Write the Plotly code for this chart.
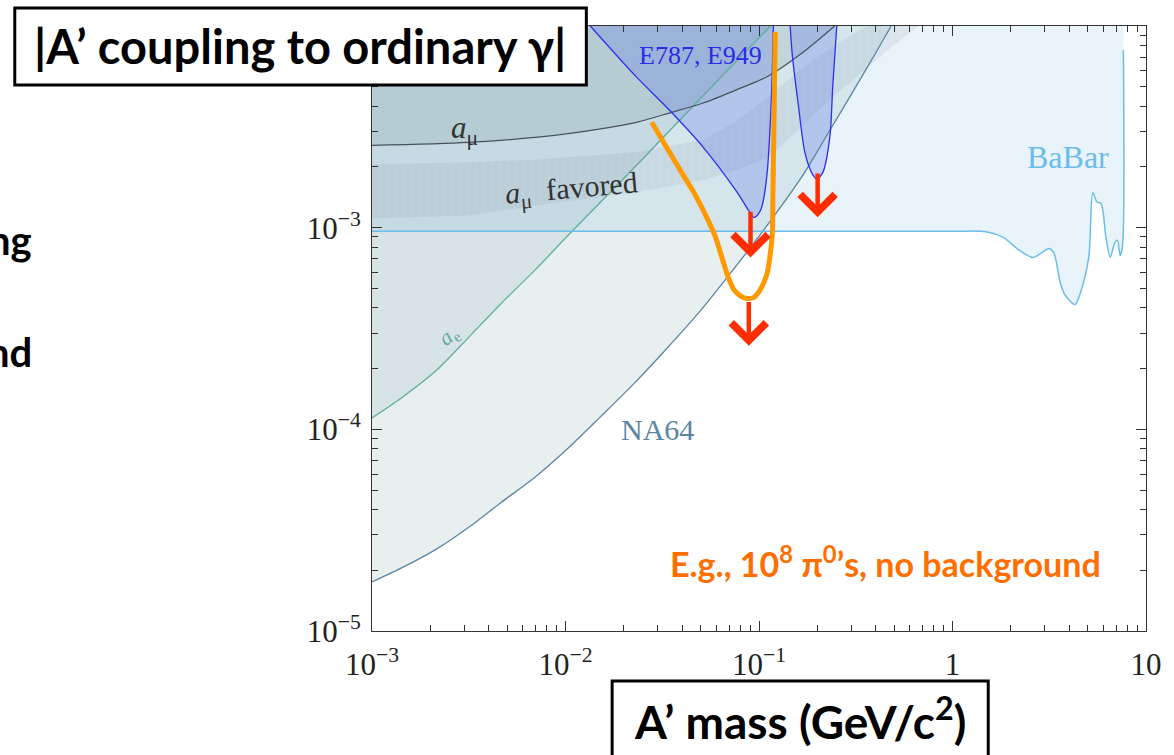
import math
import plotly.graph_objects as go

# ---------------- data: A' mass (GeV/c^2) vs |coupling| ----------------
na64_mass = [0.001, 0.00143, 0.00214, 0.00315, 0.00465, 0.00693, 0.0102, 0.0151, 0.0225,
             0.0333, 0.0491, 0.0731, 0.108, 0.166, 0.227, 0.301, 0.394, 0.482]
na64_eps = [1.75e-5, 2.06e-5, 2.54e-5, 3.26e-5, 4.34e-5, 5.77e-5, 7.98e-5, 1.15e-4, 1.68e-4,
            2.51e-4, 3.81e-4, 6.14e-4, 1.0e-3, 1.78e-3, 2.93e-3, 4.61e-3, 7.14e-3, 1.0e-2]

ae_mass = [0.001, 0.00143, 0.00214, 0.00315, 0.00465, 0.00693, 0.0102, 0.0233, 0.0473, 0.1146]
ae_eps = [1.14e-4, 1.44e-4, 1.95e-4, 2.85e-4, 4.21e-4, 6.14e-4, 9.06e-4, 2.04e-3, 4.15e-3, 1.0e-2]

amu_mass = [0.001, 0.00315, 0.00719, 0.0158, 0.0233, 0.0344, 0.0514, 0.0759, 0.1119, 0.1669, 0.246]
amu_eps = [2.56e-3, 2.65e-3, 2.81e-3, 3.11e-3, 3.33e-3, 3.70e-3, 4.15e-3, 4.81e-3, 5.65e-3, 7.34e-3, 1.0e-2]

fav_hi_mass = [0.001, 0.00315, 0.00719, 0.0233, 0.0514, 0.0759, 0.1119, 0.1669, 0.246, 0.363]
fav_hi_eps = [2.06e-3, 2.11e-3, 2.18e-3, 2.37e-3, 2.72e-3, 3.37e-3, 4.44e-3, 6.18e-3, 8.04e-3, 1.0e-2]
fav_lo_mass = [0.001, 0.00315, 0.00719, 0.0233, 0.0514, 0.0759, 0.1119, 0.246, 0.499, 0.670]
fav_lo_eps = [1.11e-3, 1.15e-3, 1.29e-3, 1.50e-3, 1.72e-3, 1.93e-3, 2.23e-3, 4.54e-3, 8.04e-3, 1.0e-2]

babar_mass = [0.001, 1.0, 1.49, 1.82, 2.22, 2.60, 2.85, 3.16, 3.35, 3.61, 3.83, 4.30, 4.57,
              5.06, 5.31, 5.58, 5.85, 6.21, 6.53, 6.92, 7.12, 7.35, 7.55, 7.64]
babar_eps = [9.6e-4, 9.6e-4, 9.55e-4, 8.98e-4, 7.71e-4, 7.12e-4, 7.45e-4, 7.89e-4, 7.45e-4,
             5.29e-4, 4.61e-4, 4.16e-4, 4.72e-4, 7.14e-4, 1.49e-3, 1.34e-3, 1.32e-3, 8.98e-4,
             7.14e-4, 8.48e-4, 8.65e-4, 7.28e-4, 8.01e-4, 7.6e-3]

e787a_mass = [0.01343, 0.0233, 0.0344, 0.0514, 0.0759, 0.0883, 0.0937, 0.0970, 0.1019,
              0.1054, 0.1105, 0.1146, 0.1172, 0.1186]
e787a_eps = [1.0e-2, 5.58e-3, 3.83e-3, 2.51e-3, 1.53e-3, 1.22e-3, 1.125e-3, 1.14e-3, 1.22e-3,
             1.37e-3, 1.93e-3, 3.41e-3, 6.04e-3, 1.0e-2]

e787b_mass = [0.1449, 0.1483, 0.1592, 0.1730, 0.1879, 0.1991, 0.2138, 0.2323, 0.2404, 0.2523]
e787b_eps = [1.0e-2, 7.34e-3, 4.15e-3, 2.34e-3, 1.86e-3, 1.74e-3, 1.88e-3, 2.81e-3, 4.98e-3, 1.0e-2]

proj_mass = [0.0279, 0.0344, 0.0421, 0.0457, 0.0552, 0.0599, 0.0650, 0.0697, 0.0740, 0.0785,
             0.0833, 0.0883, 0.0937, 0.0993, 0.1054, 0.1105, 0.1146, 0.1172, 0.1179, 0.1186,
             0.1199, 0.1213]
proj_eps = [3.33e-3, 2.37e-3, 1.72e-3, 1.515e-3, 1.062e-3, 8.85e-4, 6.88e-4, 5.60e-4, 4.94e-4,
            4.66e-4, 4.50e-4, 4.46e-4, 4.50e-4, 4.77e-4, 5.29e-4, 6.0e-4, 7.54e-4, 9.37e-4,
            1.37e-3, 2.0e-3, 4.29e-3, 9.34e-3]

arrow_mass = [0.0904, 0.2009, 0.0886]
arrow_from = [1.22e-3, 1.89e-3, 4.35e-4]
arrow_to = [7.12e-4, 1.125e-3, 2.60e-4]

x_tick_vals = [1e-3, 1e-2, 1e-1, 1, 10]
x_tick_text = ["10<sup>−3</sup>", "10<sup>−2</sup>", "10<sup>−1</sup>", "1", "10"]
y_tick_vals = [1e-5, 1e-4, 1e-3]
y_tick_text = ["10<sup>−5</sup>", "10<sup>−4</sup>", "10<sup>−3</sup>"]

X_MIN, Y_TOP = 1e-3, 1e-2

# ---------------- figure ----------------
W, H = 1174, 755
ML, MR, MT, MB = 372, 22, 26, 124
PW, PH = W - ML - MR, H - MT - MB


def px_x(px):
    return (px - ML) / PW


def px_y(py):
    return (H - MB - py) / PH


fig = go.Figure()


def region(xs, ys, color, shape="linear", pattern=None):
    kw = {}
    if pattern is not None:
        kw["fillpattern"] = pattern
    fig.add_trace(go.Scatter(x=xs, y=ys, mode="lines", line=dict(width=0, shape=shape),
                             fill="toself", fillcolor=color, hoverinfo="skip",
                             showlegend=False, **kw))


def curve(xs, ys, color, width, shape="linear"):
    fig.add_trace(go.Scatter(x=xs, y=ys, mode="lines",
                             line=dict(color=color, width=width, shape=shape, smoothing=0.8),
                             hoverinfo="skip", showlegend=False))


# filled exclusion regions
region(na64_mass + [X_MIN], na64_eps + [Y_TOP], "rgba(63,122,122,0.12)")
region(ae_mass + [X_MIN], ae_eps + [Y_TOP], "rgba(110,140,160,0.12)")
region(babar_mass + [babar_mass[-1], X_MIN], babar_eps + [Y_TOP, Y_TOP], "rgba(72,160,215,0.12)")
region(amu_mass + [X_MIN], amu_eps + [Y_TOP], "rgba(100,130,130,0.16)")
region(fav_hi_mass + fav_lo_mass[::-1], fav_hi_eps + fav_lo_eps[::-1], "rgba(110,120,135,0.10)",
       pattern=dict(shape="|", fgcolor="rgba(90,100,110,0.10)", bgcolor="rgba(110,120,135,0.10)",
                    size=8, solidity=0.1))
region(e787a_mass, e787a_eps, "rgba(60,90,235,0.22)", shape="spline")
region(e787b_mass, e787b_eps, "rgba(60,90,235,0.22)", shape="spline")

# boundary lines
curve(na64_mass, na64_eps, "#5b86a0", 1.3, "spline")
curve(ae_mass, ae_eps, "#5fae9a", 1.3, "spline")
curve(babar_mass, babar_eps, "#6bbde9", 1.5, "spline")
curve(amu_mass, amu_eps, "#45525a", 1.2, "spline")
curve(e787a_mass, e787a_eps, "#2e2ef0", 1.3, "spline")
curve(e787b_mass, e787b_eps, "#2e2ef0", 1.3, "spline")
curve(proj_mass, proj_eps, "#ff9900", 5, "spline")

axis_common = dict(type="log", showgrid=False, zeroline=False, showline=True, linecolor="#333",
                   linewidth=1, mirror="allticks", ticks="inside", ticklen=10, tickwidth=1,
                   tickcolor="#333", tickmode="array",
                   tickfont=dict(family="Liberation Serif", size=31, color="#222"),
                   minor=dict(ticks="inside", ticklen=6, tickwidth=1, tickcolor="#333",
                              dtick="D1", showgrid=False))
fig.update_xaxes(range=[-3, 1], tickvals=x_tick_vals, ticktext=x_tick_text, ticklabelstandoff=6,
                 **axis_common)
fig.update_yaxes(range=[-5, -2], tickvals=y_tick_vals, ticktext=y_tick_text, ticklabelstandoff=4,
                 **axis_common)

ann = []
# arrows
for m, a, b in zip(arrow_mass, arrow_from, arrow_to):
    ann.append(dict(x=math.log10(m), y=math.log10(b), ax=math.log10(m), ay=math.log10(a),
                    xref="x", yref="y", axref="x", ayref="y", text="", showarrow=True,
                    arrowhead=4, arrowsize=1.5, arrowwidth=4.5, arrowcolor="#ff2d00"))
n_arrows = len(ann)

serif = "Liberation Serif"
labels = [
    dict(x=px_x(465), y=px_y(130), text="<i>a</i><sub>μ</sub>", font=dict(family=serif, size=31, color="#333")),
    dict(x=px_x(573), y=px_y(190), text="<i>a</i><sub>μ</sub>  favored", textangle=-5,
         font=dict(family=serif, size=30, color="#333")),
    dict(x=px_x(450), y=px_y(336), text="<i>a</i><sub>e</sub>", textangle=-40,
         font=dict(family=serif, size=22, color="#5fae9a")),
    dict(x=px_x(660), y=px_y(429), text="NA64", font=dict(family=serif, size=30, color="#5b86a0")),
    dict(x=px_x(703), y=px_y(55), text="E787, E949", font=dict(family=serif, size=26, color="#2a2ae8")),
    dict(x=px_x(1073), y=px_y(157), text="BaBar", font=dict(family=serif, size=32, color="#6bbde9")),
    dict(x=px_x(670), y=px_y(562), xanchor="left",
         text="<b>E.g., 10<sup>8</sup> π<sup>0</sup>’s, no background</b>",
         font=dict(family="Lato", size=34, color="#ff6f00")),
    dict(x=px_x(299), y=px_y(46), text="<b>|A’ coupling to ordinary γ|</b>",
         font=dict(family="Lato", size=47, color="#000")),
    dict(x=px_x(803), y=px_y(718), text="<b>A’ mass (GeV/c<sup>2</sup>)</b>",
         font=dict(family="Lato", size=46, color="#000")),
    dict(x=px_x(31), y=px_y(240), xanchor="right", text="<b>ng</b>",
         font=dict(family="Lato", size=40, color="#000")),
    dict(x=px_x(31), y=px_y(352), xanchor="right", text="<b>nd</b>",
         font=dict(family="Lato", size=40, color="#000")),
]
for a in labels:
    a.setdefault("xref", "paper")
    a.setdefault("yref", "paper")
    a.setdefault("xanchor", "center")
    a.setdefault("yanchor", "middle")
    a.setdefault("showarrow", False)
ann += labels

shapes = [
    dict(type="rect", xref="paper", yref="paper", x0=px_x(12), x1=px_x(588), y0=px_y(85), y1=px_y(8),
         line=dict(color="#000", width=3), fillcolor="#fff", layer="above"),
    dict(type="rect", xref="paper", yref="paper", x0=px_x(614), x1=px_x(993), y0=px_y(765), y1=px_y(681),
         line=dict(color="#000", width=3), fillcolor="#fff", layer="above"),
]

fig.update_layout(width=W, height=H, autosize=False,
                  margin=dict(l=ML, r=MR, t=MT, b=MB, pad=0),
                  paper_bgcolor="#fff", plot_bgcolor="#fff",
                  showlegend=False, annotations=ann, shapes=shapes)

fig.write_html("out.html")
